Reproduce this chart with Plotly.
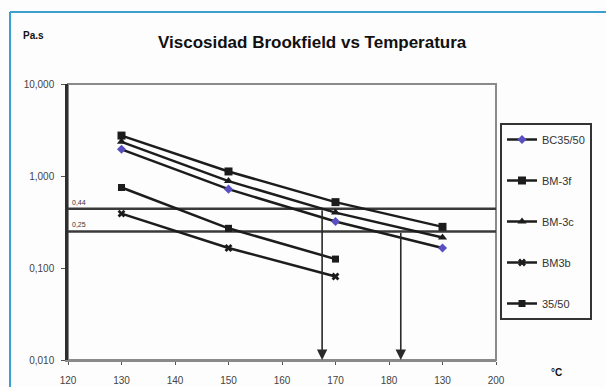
import math
import plotly.graph_objects as go

# Brookfield viscosity (Pa.s) measured at each test temperature (°C)
temps = [130, 150, 170, 190]
temps_short = [130, 150, 170]

series_names = ["BC35/50", "BM-3f", "BM-3c", "BM3b", "35/50"]
bc3550 = [1.95, 0.72, 0.32, 0.165]
bm3f = [2.75, 1.12, 0.52, 0.28]
bm3c = [2.35, 0.88, 0.40, 0.215]
bm3b = [0.39, 0.165, 0.081]
b3550 = [0.75, 0.27, 0.125]

# Viscosity limits and the temperatures where they are reached
limit_values = [0.44, 0.25]
limit_labels = ["0,44", "0,25"]
cross_temps = [167.5, 182.2]

x_ticks = [120, 130, 140, 150, 160, 170, 180, 190, 200]
x_ticktext = ["120", "130", "140", "150", "160", "170", "180", "130", "200"]
y_ticks = [0.01, 0.1, 1, 10]
y_ticktext = ["0,010", "0,100", "1,000", "10,000"]

W, H = 606, 387
L, R, T, B = 68, 110, 84, 27
FONT = "Liberation Sans, Arial, sans-serif"
INK = "#1c1c1c"

fig = go.Figure()

# Horizontal limit lines across the full temperature range
for v in limit_values:
    fig.add_trace(go.Scatter(
        x=[x_ticks[0], x_ticks[-1]], y=[v, v], mode="lines",
        line=dict(color="#3a3a3a", width=2.5), showlegend=False,
        hoverinfo="skip"))

styles = [
    (bc3550, temps, dict(symbol="diamond", size=7, color="#5a4fc0")),
    (bm3f, temps, dict(symbol="square", size=8, color=INK)),
    (bm3c, temps, dict(symbol="triangle-up", size=8, color=INK)),
    (bm3b, temps_short, dict(symbol="x", size=7, color=INK)),
    (b3550, temps_short, dict(symbol="square", size=7, color=INK)),
]
for name, (vals, xs, mk) in zip(series_names, styles):
    fig.add_trace(go.Scatter(
        x=xs, y=vals, name=name, legendgroup=name, mode="lines+markers",
        line=dict(color=INK, width=2.5), marker=mk))

annotations = []
# Arrows dropping from each limit line to the temperature axis
for t, v in zip(cross_temps, limit_values):
    annotations.append(dict(
        x=t, y=math.log10(y_ticks[0]), ax=t, ay=math.log10(v),
        xref="x", yref="y", axref="x", ayref="y", text="",
        showarrow=True, arrowhead=2, arrowsize=1.3, arrowwidth=1.6,
        arrowcolor="#2a2a2a"))
for v, lab in zip(limit_values, limit_labels):
    annotations.append(dict(
        x=x_ticks[0], y=math.log10(v), xref="x", yref="y", text=lab,
        showarrow=False, xanchor="left", yanchor="bottom", xshift=2,
        yshift=1, font=dict(family=FONT, size=7, color="#333")))

def px_x(p):
    return (p - L) / (W - L - R)

def px_y(p):
    return (H - B - p) / (H - T - B)

annotations += [
    dict(x=px_x(312), y=px_y(42), xref="paper", yref="paper",
         text="<b>Viscosidad Brookfield vs Temperatura</b>", showarrow=False,
         xanchor="center", yanchor="middle",
         font=dict(family=FONT, size=17, color="#111")),
    dict(x=px_x(21), y=px_y(36), xref="paper", yref="paper",
         text="<b>Pa.s</b>", showarrow=False, xanchor="left", yanchor="middle",
         font=dict(family=FONT, size=10, color="#111")),
    dict(x=px_x(549), y=px_y(372), xref="paper", yref="paper",
         text="<b>°C</b>", showarrow=False, xanchor="left", yanchor="middle",
         font=dict(family=FONT, size=10, color="#111")),
]

shapes = [
    # plot frame (top and right in gray)
    dict(type="rect", xref="paper", yref="paper", x0=0, x1=1, y0=0, y1=1,
         line=dict(color="#8a8a8a", width=2), layer="below"),
    # outer chart border
    dict(type="line", xref="paper", yref="paper", x0=px_x(10), x1=px_x(606),
         y0=px_y(12), y1=px_y(12), line=dict(color="#3c9fd0", width=2)),
    dict(type="line", xref="paper", yref="paper", x0=px_x(10), x1=px_x(10),
         y0=px_y(12), y1=px_y(390), line=dict(color="#3c9fd0", width=2)),
]

fig.update_layout(
    width=W, height=H, margin=dict(l=L, r=R, t=T, b=B, autoexpand=False),
    paper_bgcolor="#fdfdfd", plot_bgcolor="#fdfdfd",
    annotations=annotations, shapes=shapes,
    legend=dict(x=px_x(500), y=px_y(123), xanchor="left", yanchor="top",
                bordercolor="#333", borderwidth=2, bgcolor="#fdfdfd",
                font=dict(family=FONT, size=11, color="#333"),
                tracegroupgap=22, entrywidth=58),
    xaxis=dict(range=[x_ticks[0], x_ticks[-1]], tickvals=x_ticks,
               ticktext=x_ticktext, showgrid=False, zeroline=False,
               showline=True, linecolor="#8a8a8a", linewidth=2,
               ticks="outside", ticklen=3, tickcolor="#555",
               ticklabelstandoff=7, automargin=False,
               tickfont=dict(family=FONT, size=10, color="#444")),
    yaxis=dict(type="log", range=[-2, 1], tickvals=y_ticks,
               ticktext=y_ticktext, showgrid=False, zeroline=False,
               showline=True, linecolor="#2e2e2e", linewidth=2.5,
               ticks="outside", ticklen=4, tickcolor="#555",
               ticklabelstandoff=5, automargin=False,
               tickfont=dict(family=FONT, size=10, color="#444")),
)

fig.write_html("out.html")
